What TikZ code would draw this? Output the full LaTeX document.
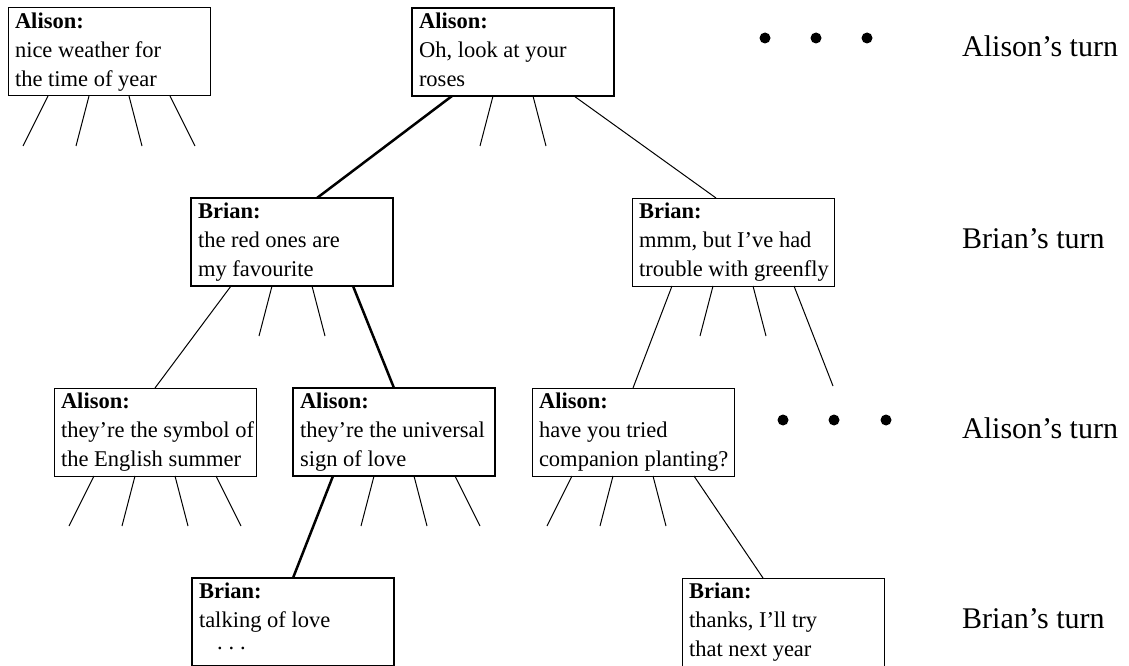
\documentclass[tikz,border=0pt]{standalone}
\usepackage{fontspec}
\setmainfont{Liberation Serif}
\usetikzlibrary{calc}
\newcommand{\turnbox}[3]{\parbox[c][78pt][t]{188pt}{\fontsize{22.5pt}{29pt}\selectfont\mbox{\textbf{#1}}\\\mbox{#2}\\\mbox{#3}}}
\tikzset{
  thinbox/.style={draw, line width=1pt, anchor=north west, inner xsep=7pt, inner ysep=5pt, outer sep=0pt},
  thickbox/.style={thinbox, line width=2.5pt},
  move/.style={line width=1pt},
  chosen/.style={line width=2.5pt},
  turnlabel/.style={anchor=base west, inner sep=0pt, font=\fontsize{30pt}{36pt}\selectfont},
  dotmark/.style={fill, circle, inner sep=0pt, minimum size=11pt}
}
\begin{document}
\begin{tikzpicture}[x=1pt, y=-1pt]
\useasboundingbox (0,0) rectangle (1129,666);

% boxes
\node[thinbox]  (b1) at (8,8)     {\turnbox{Alison:}{nice weather for}{the time of year}};
\node[thickbox] (b2) at (412,8)   {\turnbox{Alison:}{Oh, look at your}{roses}};
\node[thickbox] (b3) at (191,198) {\turnbox{Brian:}{the red ones are}{my favourite}};
\node[thinbox]  (b4) at (632,198) {\turnbox{Brian:}{mmm, but I’ve had}{trouble with greenfly}};
\node[thinbox]  (b5) at (54,388)  {\turnbox{Alison:}{they’re the symbol of}{the English summer}};
\node[thickbox] (b6) at (293,388) {\turnbox{Alison:}{they’re the universal}{sign of love}};
\node[thinbox]  (b7) at (532,388) {\turnbox{Alison:}{have you tried}{companion planting?}};
\node[thickbox] (b8) at (192,578) {\turnbox{Brian:}{talking of love}{\hspace*{18pt}\raisebox{7pt}{.\hspace{6pt}.\hspace{6pt}.}}};
\node[thinbox]  (b9) at (682,578) {\turnbox{Brian:}{thanks, I’ll try}{that next year}};

% anchor points on each box
\foreach \b in {b1,b2,b3,b4,b5,b6,b7,b8,b9}{
  \foreach \i/\o in {1/40,2/81,3/121,4/162}{
    \coordinate (\b-out\i) at ($(\b.south west)+(\o,0)$);
  }
  \foreach \i/\o in {1/15,2/68,3/134,4/187}{
    \coordinate (\b-end\i) at ($(\b.south west)+(\o,50)$);
  }
}
\coordinate (b3-in) at ($(b3.north west)+(126,0)$);
\coordinate (b4-in) at ($(b4.north west)+(84,0)$);
\coordinate (b9-in) at ($(b9.north west)+(81,0)$);
\coordinate (b4-far) at ($(b4.south west)+(201,100)$);

% connectors
\foreach \i in {1,2,3,4}{ \draw[move] (b1-out\i) -- (b1-end\i); }
\draw[chosen] (b2-out1) -- (b3-in);
\draw[move] (b2-out2) -- (b2-end2);
\draw[move] (b2-out3) -- (b2-end3);
\draw[move] (b2-out4) -- (b4-in);

\draw[move] (b3-out1) -- (b5.north);
\draw[move] (b3-out2) -- (b3-end2);
\draw[move] (b3-out3) -- (b3-end3);
\draw[chosen] (b3-out4) -- (b6.north);

\draw[move] (b4-out1) -- (b7.north);
\draw[move] (b4-out2) -- (b4-end2);
\draw[move] (b4-out3) -- (b4-end3);
\draw[move] (b4-out4) -- (b4-far);

\foreach \i in {1,2,3,4}{ \draw[move] (b5-out\i) -- (b5-end\i); }

\draw[chosen] (b6-out1) -- (b8.north);
\draw[move] (b6-out2) -- (b6-end2);
\draw[move] (b6-out3) -- (b6-end3);
\draw[move] (b6-out4) -- (b6-end4);

\draw[move] (b7-out1) -- (b7-end1);
\draw[move] (b7-out2) -- (b7-end2);
\draw[move] (b7-out3) -- (b7-end3);
\draw[move] (b7-out4) -- (b9-in);

% ellipsis dots
\node[dotmark] (d1) at (765,38) {};
\node[dotmark] (d2) at (816,38) {};
\node[dotmark] (d3) at (867,38) {};
\node[dotmark] (d4) at (783,420) {};
\node[dotmark] (d5) at (834,420) {};
\node[dotmark] (d6) at (886,420) {};

% turn labels
\node[turnlabel] (t1) at (962,57)  {Alison’s turn};
\node[turnlabel] (t2) at (962,248) {Brian’s turn};
\node[turnlabel] (t3) at (962,438) {Alison’s turn};
\node[turnlabel] (t4) at (962,628) {Brian’s turn};
\end{tikzpicture}
\end{document}
